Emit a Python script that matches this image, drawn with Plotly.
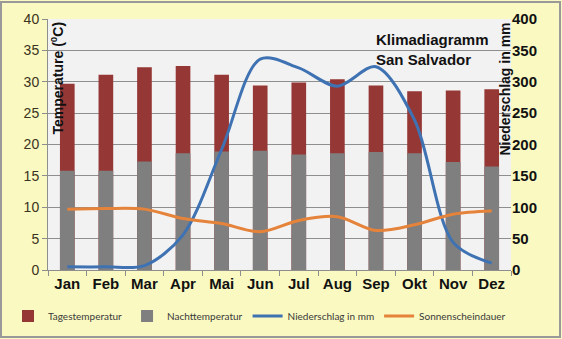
import plotly.graph_objects as go

# Monthly climate data for San Salvador
months = ["Jan", "Feb", "Mar", "Apr", "Mai", "Jun", "Jul", "Aug", "Sep", "Okt", "Nov", "Dez"]
tagestemperatur = [29.7, 31.1, 32.3, 32.5, 31.1, 29.4, 29.9, 30.4, 29.4, 28.5, 28.6, 28.8]
nachttemperatur = [15.8, 15.8, 17.3, 18.6, 18.9, 19.0, 18.4, 18.6, 18.8, 18.6, 17.2, 16.5]
niederschlag = [5, 5, 7, 56, 192, 336, 322, 293, 324, 239, 44, 11]
sonnenschein = [97, 98, 97, 82, 74, 61, 79, 85, 63, 72, 89, 94]

temp_ticks = [0, 5, 10, 15, 20, 25, 30, 35, 40]
mm_ticks = [0, 50, 100, 150, 200, 250, 300, 350, 400]

RED = "#953735"
GRAY = "#7f7f7f"
BLUE = "#3f72b2"
ORANGE = "#e5833a"
GRID = "#8e8e8e"

# plot area size in pixels, used to place paper-referenced items
PW, PH = 463, 251

fig = go.Figure()

fig.add_trace(go.Bar(
    x=months, y=tagestemperatur, name="Tagestemperatur",
    marker=dict(color=RED, line=dict(width=0)), yaxis="y",
))
fig.add_trace(go.Bar(
    x=months, y=nachttemperatur, name="Nachttemperatur",
    marker=dict(color=GRAY, line=dict(width=0)), yaxis="y",
))
fig.add_trace(go.Scatter(
    x=months, y=niederschlag, name="Niederschlag in mm", mode="lines",
    line=dict(color=BLUE, width=3, shape="spline", smoothing=0.9), yaxis="y2",
))
fig.add_trace(go.Scatter(
    x=months, y=sonnenschein, name="Sonnenscheindauer", mode="lines",
    line=dict(color=ORANGE, width=3, shape="spline", smoothing=0.9), yaxis="y2",
))

fig.update_layout(
    width=562, height=339,
    margin=dict(l=48, r=51, t=19, b=69, autoexpand=False),
    paper_bgcolor="#f9f9c1",
    plot_bgcolor="#f2f2f2",
    barmode="overlay",
    bargap=0.62,
    font=dict(family="Liberation Sans, Arial", color="#222222"),
    showlegend=True,
    legend=dict(
        orientation="h",
        x=(8 - 48) / PW, xanchor="left", y=-(316 - 270) / PH, yanchor="middle",
        font=dict(family="Lato", size=10, color="#3a3a3a"),
        bgcolor="rgba(0,0,0,0)", traceorder="normal",
        itemwidth=30, tracegroupgap=0,
    ),
    xaxis=dict(
        type="category", showgrid=False, showline=True, linecolor=GRID,
        ticks="outside", tickson="boundaries", ticklen=5, tickcolor=GRID,
        tickfont=dict(size=15, color="#111111", family="Liberation Sans", weight="bold"),
        ticklabelstandoff=0,
    ),
    yaxis=dict(
        range=[0, 40], tickvals=temp_ticks, showgrid=True, gridcolor=GRID, gridwidth=1,
        showline=True, linecolor=GRID, ticks="outside", ticklen=5, tickcolor=GRID,
        tickfont=dict(size=14, color="#3b3320"), zeroline=False,
    ),
    yaxis2=dict(
        range=[0, 400], tickvals=mm_ticks, overlaying="y", side="right",
        showgrid=False, showline=False, zeroline=False,
        tickfont=dict(size=15, color="#111111", family="Liberation Sans", weight="bold"),
        ticks="",
    ),
    shapes=[dict(
        type="rect", xref="paper", yref="paper",
        x0=-47 / PW, x1=1 + 49 / PW, y0=-67 / PH, y1=1 + 17 / PH,
        line=dict(color="#999999", width=2), fillcolor="rgba(0,0,0,0)", layer="below",
    )],
    annotations=[
        dict(text="<b>Klimadiagramm<br>San Salvador</b>", xref="paper", yref="paper",
             x=(374 - 48) / PW, y=1 - (29 - 19) / PH, xanchor="left", yanchor="top",
             align="left", showarrow=False,
             font=dict(size=15, color="#111111", family="Liberation Sans")),
        dict(text="<b>Temperature (<sup>0</sup>C)</b>", xref="paper", yref="paper",
             x=(57 - 48) / PW, y=1 - (20 - 19) / PH, xanchor="center", yanchor="top",
             textangle=-90, showarrow=False,
             font=dict(size=14, color="#111111", family="Liberation Sans")),
        dict(text="<b>Niederschlag in mm</b>", xref="paper", yref="paper",
             x=(504 - 48) / PW, y=1 - (21 - 19) / PH, xanchor="center", yanchor="top",
             textangle=-90, showarrow=False,
             font=dict(size=14, color="#111111", family="Liberation Sans")),
    ],
)

fig.write_html("out.html")
